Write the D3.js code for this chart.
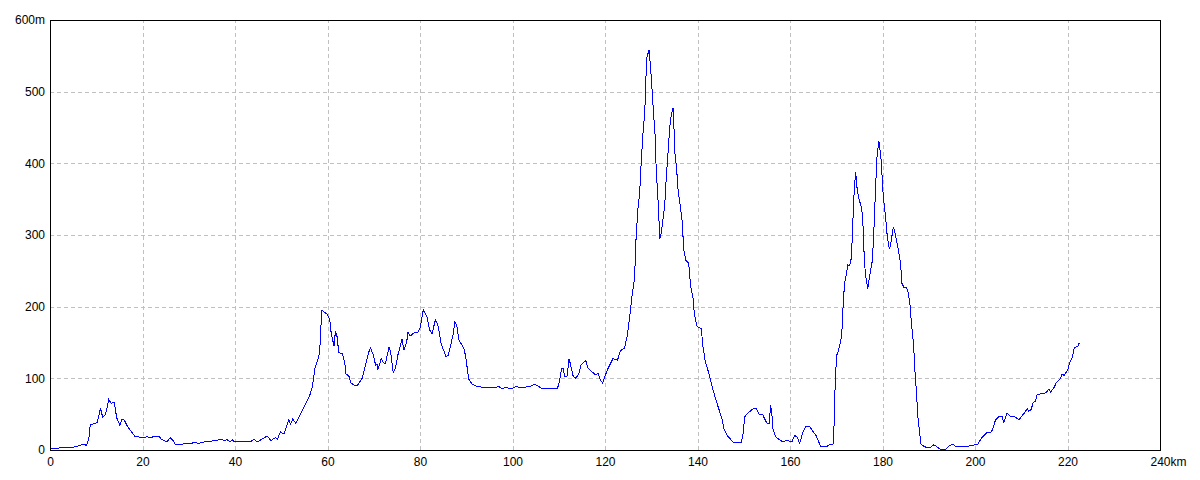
<!DOCTYPE html>
<html>
<head>
<meta charset="utf-8">
<script src="https://cdn.jsdelivr.net/npm/d3@7"></script>
<style>
  body { margin: 0; background: #fff; }
  svg { display: block; font-family: "Liberation Sans", Arial, sans-serif; }
  .grid line { stroke: #c0c0c0; stroke-dasharray: 4,3; shape-rendering: crispEdges; }
  .axis text { font-size: 12px; fill: #000; }
</style>
</head>
<body>
<svg id="profile" width="1200" height="480"></svg>
<script>
// distance along route (km) and elevation (m)
var distanceKm = [0, 2.5, 5.4, 7.1, 7.8, 8.3, 8.6, 9.7, 10.1, 10.8, 11.3, 11.9, 12.6, 13.1, 13.8, 14.3, 15.0, 15.5, 16.0, 16.7,
  17.3, 18.2, 19.8, 20.9, 21.6, 22.7, 23.4, 24.1, 24.9, 25.2, 25.9, 26.5, 27.0, 28.1, 29.0, 29.9, 31.0, 32.1, 33.2, 34.6,
  36.0, 36.8, 37.5, 38.2, 38.8, 39.3, 39.8, 40.4, 43.2, 44.0, 44.7, 46.0, 46.8, 47.7, 48.6, 49.1, 49.7, 50.5, 51.5, 51.9,
  52.4, 53.0, 54.0, 54.4, 55.2, 56.0, 56.6, 57.2, 57.8, 58.2, 58.5, 58.7, 59.8, 60.4, 60.7, 61.3, 61.6, 62.0, 62.3, 63.1,
  63.6, 63.9, 64.5, 65.0, 65.7, 66.4, 67.4, 68.1, 68.8, 69.2, 69.8, 70.3, 70.6, 70.8, 71.5, 71.9, 72.4, 72.8, 73.2, 73.5,
  74.1, 74.6, 75.1, 75.7, 76.0, 76.4, 77.0, 77.3, 77.8, 78.6, 79.4, 79.9, 80.2, 80.6, 81.1, 81.4, 82.0, 82.5, 83.2, 83.7,
  84.1, 84.5, 85.0, 85.5, 86.0, 86.6, 87.1, 87.4, 87.8, 88.3, 89.0, 89.5, 89.9, 90.4, 91.1, 92.3, 94.4, 95.9, 97.0, 97.7,
  98.4, 99.5, 100.6, 102.0, 103.5, 104.5, 105.2, 106.3, 109.6, 110.1, 110.5, 110.8, 111.2, 111.7, 112.1, 112.4, 113.0, 113.5, 114.2, 114.7,
  115.7, 116.2, 116.8, 117.8, 118.4, 118.9, 119.4, 119.8, 120.5, 121.6, 122.6, 123.2, 124.1, 124.7, 125.3, 125.8, 126.3, 126.6, 127.0, 127.4,
  127.7, 128.1, 128.5, 128.8, 128.9, 129.4, 129.6, 129.9, 130.3, 130.7, 131.0, 131.3, 131.6, 131.75, 132.1, 132.5, 132.8, 133.1, 133.5, 133.9,
  134.2, 134.6, 134.8, 135.0, 135.4, 135.7, 136.2, 136.6, 136.9, 137.4, 138.0, 138.4, 138.9, 139.2, 139.8, 140.7, 141.1, 141.6, 142.3, 143.1,
  143.8, 144.5, 145.2, 145.6, 146.3, 147.7, 149.3, 149.7, 150.1, 150.9, 151.9, 152.6, 153.3, 154.0, 154.5, 155.0, 155.4, 155.7, 156.0, 156.2,
  156.8, 157.6, 158.4, 159.1, 159.8, 160.3, 160.9, 161.4, 162.0, 162.7, 163.3, 164.1, 164.7, 165.6, 166.5, 167.8, 168.5, 169.0, 169.3, 169.5,
  169.7, 170.0, 170.4, 171.0, 171.2, 171.4, 171.7, 172.1, 172.4, 172.8, 173.2, 173.4, 173.6, 173.8, 174.1, 174.3, 174.5, 174.9, 175.3, 175.6,
  175.8, 176.0, 176.3, 176.7, 176.9, 177.3, 177.7, 178.0, 178.4, 178.7, 179.1, 179.3, 179.6, 179.9, 180.1, 180.5, 180.8, 181.0, 181.4, 181.8,
  182.1, 182.3, 182.7, 183.1, 183.4, 183.8, 184.1, 184.5, 185.1, 185.4, 185.8, 186.1, 186.6, 186.9, 187.3, 187.6, 188.0, 188.2, 188.8, 189.5,
  190.3, 190.8, 191.5, 192.3, 193.5, 194.4, 195.2, 195.8, 197.8, 199.2, 200.5, 201.4, 202.2, 202.5, 203.3, 203.6, 204.3, 205.0, 205.8, 206.1,
  206.5, 206.8, 207.6, 208.3, 209.4, 210.4, 211.2, 211.5, 212.0, 212.5, 213.0, 213.3, 214.0, 214.8, 215.3, 215.9, 216.2, 217.0, 217.5, 218.4,
  218.7, 219.2, 219.6, 220.0, 220.4, 220.8, 221.1, 221.4, 222.1, 222.3, 222.5];

var elevationM = [2, 4, 5, 9, 7, 17, 36, 38, 39, 59, 46, 50, 71, 66, 67, 46, 35, 44, 42, 33,
  28, 20, 18, 19, 18, 20, 20, 15, 13, 12, 18, 14, 8, 8, 10, 9, 11, 10, 12, 13,
  14, 16, 14, 15, 12, 15, 12, 12, 12, 16, 12, 17, 20, 14, 18, 16, 26, 23, 43, 37,
  44, 38, 50, 55, 66, 76, 88, 116, 127, 137, 177, 196, 190, 182, 163, 146, 166, 158, 137, 135,
  123, 107, 104, 94, 91, 91, 101, 119, 137, 143, 133, 119, 121, 113, 128, 123, 121, 133, 144, 139,
  109, 115, 133, 147, 156, 140, 151, 165, 160, 164, 164, 171, 181, 196, 190, 186, 168, 163, 182, 176,
  163, 148, 140, 131, 133, 149, 163, 179, 176, 154, 147, 140, 125, 100, 93, 89, 88, 88, 89, 86,
  88, 86, 89, 88, 89, 92, 91, 86, 86, 98, 114, 115, 103, 104, 128, 121, 104, 101, 106, 119,
  126, 115, 111, 106, 107, 98, 94, 102, 114, 128, 126, 139, 143, 160, 191, 219, 242, 295, 337, 360,
  400, 442, 474, 530, 547, 559, 545, 521, 479, 442, 386, 358, 316, 295, 305, 326, 342, 377, 414, 451,
  467, 478, 451, 416, 391, 363, 340, 319, 281, 265, 261, 230, 214, 191, 173, 170, 144, 123, 109, 88,
  72, 58, 44, 30, 21, 11, 11, 21, 47, 53, 58, 59, 50, 50, 43, 37, 37, 64, 48, 30,
  19, 15, 12, 14, 13, 12, 21, 19, 10, 26, 33, 34, 28, 20, 6, 5, 9, 8, 10, 55,
  102, 133, 140, 158, 174, 207, 233, 247, 259, 258, 270, 309, 335, 367, 388, 372, 360, 349, 340, 326,
  293, 261, 242, 226, 235, 251, 265, 302, 367, 409, 432, 423, 405, 372, 351, 330, 307, 295, 281, 293,
  307, 312, 300, 288, 277, 261, 233, 228, 228, 221, 207, 181, 149, 112, 74, 42, 21, 9, 6, 4,
  4, 8, 6, 2, 1, 7, 9, 5, 5, 7, 9, 18, 23, 25, 25, 28, 42, 47, 48, 38,
  47, 52, 47, 48, 43, 51, 58, 55, 57, 67, 69, 78, 79, 79, 81, 86, 81, 88, 95, 101,
  106, 105, 109, 114, 123, 128, 135, 144, 145, 149, 150];

var xTicks = [0, 20, 40, 60, 80, 100, 120, 140, 160, 180, 200, 220, 240];
var yTicks = [0, 100, 200, 300, 400, 500, 600];

var svg = d3.select("#profile");
// plot box edges (don't call it "top", that's window.top)
var plotLeft = 50, plotTop = 20, plotRight = 1160, plotBottom = 450;

var xScale = d3.scaleLinear().domain([0, 240]).range([plotLeft, plotRight]);
var yScale = d3.scaleLinear().domain([0, 600]).range([plotBottom, plotTop]);

var profile = distanceKm.map(function (d, i) { return { km: d, m: elevationM[i] }; });

// vertical grid + x labels
var bottomAxis = d3.axisBottom(xScale)
  .tickValues(xTicks)
  .tickSizeInner(-(plotBottom - plotTop))
  .tickSizeOuter(0)
  .tickPadding(7)
  .tickFormat(function (d) { return d == 240 ? "240km" : d; });
var gx = svg.append("g")
  .attr("class", "axis grid")
  .attr("transform", "translate(0," + plotBottom + ")")
  .call(bottomAxis);
gx.select(".domain").remove();
gx.selectAll(".tick text").filter(function (d) { return d == 240; })
  .attr("text-anchor", "start").attr("x", -10);

// horizontal grid + y labels
var leftAxis = d3.axisLeft(yScale)
  .tickValues(yTicks)
  .tickSizeInner(-(plotRight - plotLeft))
  .tickSizeOuter(0)
  .tickPadding(5)
  .tickFormat(function (d) { return d == 600 ? "600m" : d; });
var gy = svg.append("g")
  .attr("class", "axis grid")
  .attr("transform", "translate(" + plotLeft + ",0)")
  .call(leftAxis);
gy.select(".domain").remove();

// elevation line
var line = d3.line()
  .x(function (d) { return xScale(d.km) + 0.5; })
  .y(function (d) { return yScale(d.m) + 0.5; });
svg.append("path")
  .datum(profile)
  .attr("d", line)
  .attr("fill", "none")
  .attr("stroke", "#0000ff")
  .attr("stroke-width", 1)
  .style("shape-rendering", "crispEdges");

// frame
svg.append("rect")
  .attr("x", plotLeft + 0.5)
  .attr("y", plotTop + 0.5)
  .attr("width", plotRight - plotLeft)
  .attr("height", plotBottom - plotTop)
  .attr("fill", "none")
  .attr("stroke", "#000")
  .style("shape-rendering", "crispEdges");
</script>
</body>
</html>
